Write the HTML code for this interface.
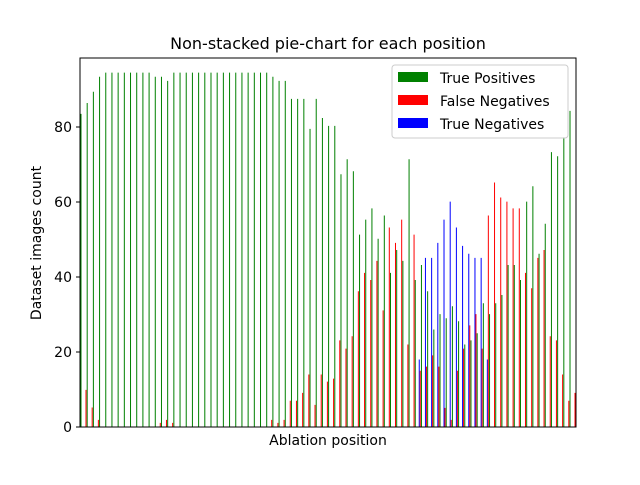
<!DOCTYPE html>
<html><head><meta charset="utf-8">
<style>
body{margin:0;background:#fff;}
svg text{font-family:"DejaVu Sans","Liberation Sans",sans-serif;fill:#000;}
</style></head>
<body>
<svg id="chart" width="640" height="480" viewBox="0 0 640 480">
<rect x="0" y="0" width="640" height="480" fill="#fff"/>
<text x="328" y="49" font-size="16" text-anchor="middle">Non-stacked pie-chart for each position</text>
<g id="bars"></g>
<g id="yticks"></g>
<rect x="80" y="58" width="496" height="369" fill="none" stroke="#000" stroke-width="1"/>
<text x="328" y="445" font-size="14" text-anchor="middle">Ablation position</text>
<text x="0" y="0" font-size="14" text-anchor="middle" transform="translate(41,243) rotate(-90)">Dataset images count</text>
<g>
<rect x="392" y="65" width="176" height="73" rx="3" fill="#fff" fill-opacity="0.8" stroke="#ccc"/>
<rect x="398" y="72" width="30" height="10" fill="#008000"/>
<text x="440" y="83" font-size="14">True Positives</text>
<rect x="398" y="95" width="30" height="10" fill="#ff0000"/>
<text x="440" y="106" font-size="14">False Negatives</text>
<rect x="398" y="118" width="30" height="10" fill="#0000ff"/>
<text x="440" y="129" font-size="14">True Negatives</text>
</g>
</svg>
<script>
const tpValues=[83.5,86.4,89.4,93.4,94.5,94.5,94.5,94.5,94.5,94.5,94.5,94.5,93.4,93.4,92.3,94.5,94.5,94.5,94.5,94.5,94.5,94.5,94.5,94.5,94.5,94.5,94.5,
94.5,94.5,94.5,94.5,93.4,92.3,92.3,87.5,87.5,87.5,79.5,87.5,82.4,80.3,80.3,67.4,71.4,68.2,51.3,55.3,58.3,50.2,56.4,41.1,47.2,44.3,71.4,
39.2,43.2,36.2,26.0,30.1,29.0,32.2,28.2,22.0,23.1,25.0,33.0,30.1,33.0,35.2,43.2,43.2,39.2,60.1,64.2,46.2,54.2,73.3,72.2,77.3,84.3,0];
const fnValues=[0,9.9,5.2,1.9,0,0,0,0,0,0,0,0,0,1.1,1.9,1.1,0,0,0,0,0,0,0,0,0,0,0,
0,0,0,0,1.9,1.1,1.9,7.0,7.0,9.1,14.0,5.9,14.0,12.1,12.9,23.1,20.9,24.2,36.2,41.1,39.2,44.3,31.1,53.2,49.1,55.3,22.0,
51.3,15.0,16.1,19.1,16.1,5.1,1.9,15.0,20.9,27.1,30.1,20.9,56.4,65.2,61.2,60.1,58.3,58.3,41.1,37.0,45.1,47.2,24.2,23.1,14.0,7.0,9.1];
const tnValues=[0,0,0,0,0,0,0,0,0,0,0,0,0,0,0,0,0,0,0,0,0,0,0,0,0,0,0,
0,0,0,0,0,0,0,0,0,0,0,0,0,0,0,0,0,0,0,0,0,0,0,0,0,0,0,
0,18.0,45.1,45.1,49.1,55.3,60.1,53.2,48.3,46.2,45.1,45.1,18.0,0,0,0,0,0,0,0,0,0,0,0,0,0,0];
const yTickLabels=[0,20,40,60,80];
const NS='http://www.w3.org/2000/svg';
const X0=81,STEP=6.19,Y0=427,PPU=3.75;
function xScale(i){return X0+i*STEP;}
function yScale(v){return Y0-v*PPU;}
const bars=document.getElementById('bars');
function addBar(i,v,off,color,name){
  if(v<=0)return;
  const r=document.createElementNS(NS,'rect');
  r.setAttribute('x',(xScale(i)+off-0.5).toFixed(2));
  r.setAttribute('y',yScale(v).toFixed(2));
  r.setAttribute('width','1');
  r.setAttribute('height',(Y0-yScale(v)).toFixed(2));
  r.setAttribute('fill',color);
  
  
  bars.appendChild(r);
}
for(let i=0;i<tpValues.length;i++){
  addBar(i,tnValues[i],-2.2,'#0000ff','bar-true-negatives');
  addBar(i,fnValues[i],-1.2,'#ff0000','bar-false-negatives');
  addBar(i,tpValues[i],0,'#008000','bar-true-positives');
}
const yt=document.getElementById('yticks');
yTickLabels.forEach(v=>{
  const y=yScale(v);
  const l=document.createElementNS(NS,'line');
  l.setAttribute('x1','76');l.setAttribute('x2','80');
  l.setAttribute('y1',y);l.setAttribute('y2',y);
  l.setAttribute('stroke','#000');
  
  
  yt.appendChild(l);
  const t=document.createElementNS(NS,'text');
  t.setAttribute('x','72');t.setAttribute('y',y+5);
  t.setAttribute('font-size','14');t.setAttribute('text-anchor','end');
  t.textContent=v;
  
  
  yt.appendChild(t);
});
</script>
</body></html>
